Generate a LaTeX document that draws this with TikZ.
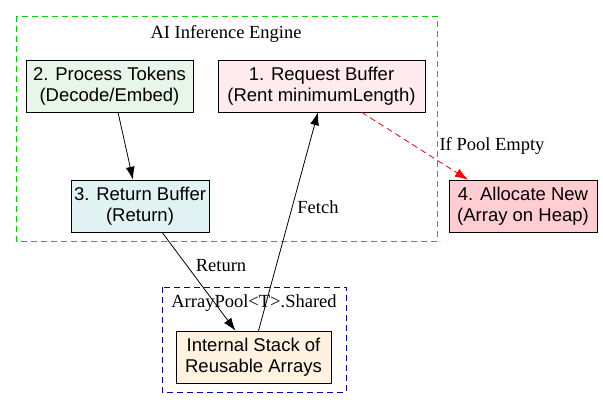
\documentclass[tikz,border=0pt]{standalone}
\usepackage{fontspec}
\setmainfont{Liberation Serif}
\newfontfamily\helv{Liberation Sans}
\usetikzlibrary{arrows.meta}
\definecolor{procfill}{HTML}{E8F5E9}
\definecolor{reqfill}{HTML}{FFEBEE}
\definecolor{retfill}{HTML}{E0F2F1}
\definecolor{allocfill}{HTML}{FFCDD2}
\definecolor{stackfill}{HTML}{FFF3E0}
\tikzset{
  box/.style={draw, fill=#1, inner sep=0pt, align=center, font=\helv\fontsize{18.5}{21}\selectfont},
  lbl/.style={font=\fontsize{18.5}{21}\selectfont},
  edge/.style={-{Latex[length=13pt,width=9pt]}, thick},
  clus/.style={draw=#1, dash pattern=on 6pt off 4pt},
}
\begin{document}
\begin{tikzpicture}[x=1pt,y=-1pt]
  \useasboundingbox (0,0) rectangle (603,408);

  % clusters
  \draw[clus=green!80!black] (16,16) rectangle (437,241);
  \node[lbl] (engine) at (226,34) {AI Inference Engine};
  \draw[clus=blue!70!black] (162,287) rectangle (346,392);
  \node[lbl] (pool) at (254,303) {ArrayPool<T>.Shared};

  % nodes
  \node[box=procfill, minimum width=167pt, minimum height=52pt] (proc) at (109.5,86) {2. Process Tokens\\(Decode/Embed)};
  \node[box=reqfill, minimum width=207pt, minimum height=52pt] (req) at (321.5,86) {1. Request Buffer\\(Rent minimumLength)};
  \node[box=retfill, minimum width=138pt, minimum height=52pt] (ret) at (140,206) {3. Return Buffer\\(Return)};
  \node[box=allocfill, minimum width=148pt, minimum height=52pt] (alloc) at (523,206) {4. Allocate New\\(Array on Heap)};
  \node[box=stackfill, minimum width=155pt, minimum height=52pt] (stack) at (253.5,357) {Internal Stack of\\Reusable Arrays};

  % edges
  \draw[edge] ([xshift=8.5pt]proc.south) -- ([xshift=-7pt]ret.north);
  \draw[edge] ([xshift=22pt]ret.south) -- ([xshift=-18pt]stack.north);
  \node[lbl] (retlbl) at (221,266) {Return};
  \draw[edge] ([xshift=5pt]stack.north) -- ([xshift=-3.5pt]req.south);
  \node[lbl] (fetch) at (318,207) {Fetch};
  \draw[edge, red, dash pattern=on 6pt off 4pt] ([xshift=40pt]req.south) -- ([xshift=-55pt]alloc.north);
  \node[lbl] (empty) at (492,146) {If Pool Empty};
\end{tikzpicture}
\end{document}
